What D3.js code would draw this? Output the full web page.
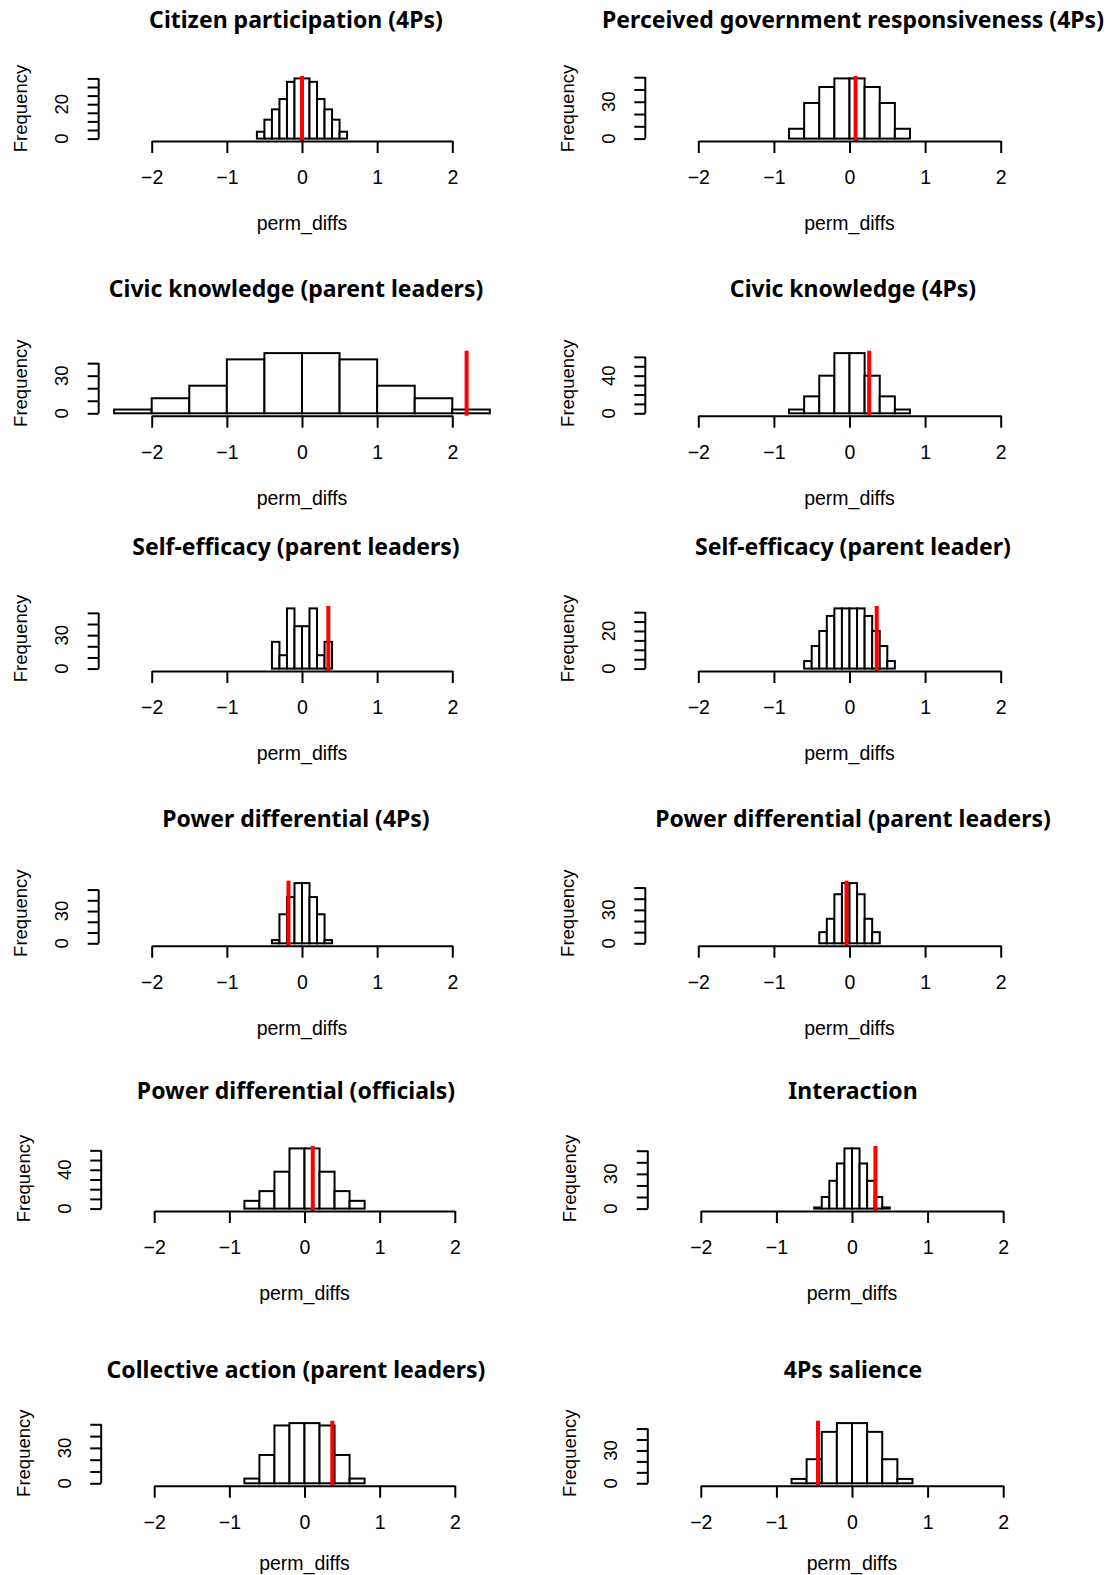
<!DOCTYPE html>
<html>
<head>
<meta charset="utf-8">
<script src="https://cdn.jsdelivr.net/npm/d3@7"></script>
<style>
  body { margin: 0; background: #fff; }
  svg text { fill: #000; }
</style>
</head>
<body>
<div id="chart"></div>
<script>
// panel titles, left to right, top to bottom
var titles = [
  "Citizen participation (4Ps)",
  "Perceived government responsiveness (4Ps)",
  "Civic knowledge (parent leaders)",
  "Civic knowledge (4Ps)",
  "Self-efficacy (parent leaders)",
  "Self-efficacy (parent leader)",
  "Power differential (4Ps)",
  "Power differential (parent leaders)",
  "Power differential (officials)",
  "Interaction",
  "Collective action (parent leaders)",
  "4Ps salience"
];

// histogram bins: first break and bin width
var binStarts = [-0.6, -0.8, -2.5, -0.8, -0.4, -0.6, -0.4, -0.4, -0.8, -0.5, -0.8, -0.8];
var binWidths = [0.1, 0.2, 0.5, 0.2, 0.1, 0.1, 0.1, 0.1, 0.2, 0.1, 0.2, 0.2];

// counts per bin
var citizenPart4Ps   = [4, 11, 17, 23, 33, 35, 35, 33, 23, 17, 11, 4];
var govResp4Ps       = [8, 29, 42, 49, 49, 42, 29, 8];
var civicKnowLeaders = [3, 12, 22, 43, 48, 48, 43, 22, 12, 3];
var civicKnow4Ps     = [4, 18, 40, 64, 64, 40, 18, 4];
var selfEffLeaders   = [24, 12, 54, 38, 38, 54, 12, 24];
var selfEffLeader    = [4, 12, 20, 28, 32, 32, 32, 32, 28, 20, 12, 4];
var powerDiff4Ps     = [3, 27, 43, 56, 56, 43, 27, 3];
var powerDiffLeaders = [10, 22, 44, 54, 54, 44, 22, 10];
var powerDiffOff     = [8, 18, 38, 62, 62, 38, 18, 8];
var interaction      = [1, 10, 24, 39, 52, 52, 39, 24, 10, 1];
var collectiveAction = [4, 24, 49, 51, 51, 49, 24, 4];
var salience4Ps      = [4, 22, 47, 55, 55, 47, 22, 4];

var counts = [citizenPart4Ps, govResp4Ps, civicKnowLeaders, civicKnow4Ps,
  selfEffLeaders, selfEffLeader, powerDiff4Ps, powerDiffLeaders,
  powerDiffOff, interaction, collectiveAction, salience4Ps];

// observed difference (red line)
var observed = [0, 0.08, 2.19, 0.26, 0.35, 0.36, -0.18, -0.04, 0.11, 0.31, 0.37, -0.45];

var xTicks = [-2, -1, 0, 1, 2];

// layout
var W = 1110, H = 1575;
var cols = [{x0: 151.7, x1: 452.3, titleX: 296}, {x0: 698.3, x1: 1000.7, titleX: 853}];
var rowAxisY = [141, 415.7, 671, 945.7, 1211, 1485.7];
var rowTitleY = [20, 289, 547, 819, 1091, 1370];
var rowShift = [0, 0, 0, 0, 2.5, 2.5];
var plotH = 65;
var axisFont = "'Liberation Sans', Arial, sans-serif";
var titleFont = "'Noto Sans', 'Open Sans', sans-serif";

var svg = d3.select("#chart").append("svg")
  .attr("width", W)
  .attr("height", H);

titles.forEach(function(title, i) {
  var col = cols[i % 2];
  var row = Math.floor(i / 2);
  var axisY = rowAxisY[row];
  var shift = rowShift[row];
  var data = counts[i];
  var maxCount = d3.max(data);

  var x = d3.scaleLinear().domain([-2, 2]).range([col.x0 + shift, col.x1 + shift]);
  var y = d3.scaleLinear()
    .domain([-0.04 * maxCount, 1.04 * maxCount])
    .range([axisY, axisY - plotH]);

  var g = svg.append("g");

  // title
  g.append("text")
    .attr("x", col.titleX)
    .attr("y", rowTitleY[row])
    .attr("dy", "0.35em")
    .attr("text-anchor", "middle")
    .style("font-family", titleFont)
    .style("font-weight", "bold")
    .style("font-size", "23px")
    .text(title);

  // bars
  var bins = data.map(function(c, j) {
    var lo = binStarts[i] + j * binWidths[i];
    return {x0: lo, x1: lo + binWidths[i], n: c};
  });
  g.selectAll("rect.bar").data(bins).enter().append("rect")
    .attr("class", "bar")
    .attr("x", function(d) { return x(d.x0); })
    .attr("width", function(d) { return x(d.x1) - x(d.x0); })
    .attr("y", function(d) { return y(d.n); })
    .attr("height", function(d) { return y(0) - y(d.n); })
    .attr("fill", "#fff")
    .attr("stroke", "#000")
    .attr("stroke-width", 2);

  // red observed line
  g.append("line")
    .attr("x1", x(observed[i])).attr("x2", x(observed[i]))
    .attr("y1", axisY - plotH).attr("y2", axisY)
    .attr("stroke", "#ff0000")
    .attr("stroke-width", 4);

  // x axis
  var xAxis = g.append("g")
    .attr("transform", "translate(0," + axisY + ")")
    .call(d3.axisBottom(x).tickValues(xTicks).tickSize(12).tickSizeOuter(0)
      .tickFormat(d3.format("d")));
  xAxis.select(".domain").attr("stroke-width", 2);
  xAxis.selectAll(".tick line").attr("stroke-width", 2);
  xAxis.selectAll(".tick text")
    .attr("y", 36).attr("dy", "0.35em")
    .style("font-family", axisFont)
    .style("font-size", "19.5px");

  g.append("text")
    .attr("x", (x(-2) + x(2)) / 2)
    .attr("y", Math.min(axisY + 82, H - 12))
    .attr("dy", "0.35em")
    .attr("text-anchor", "middle")
    .style("font-family", axisFont)
    .style("font-size", "19.5px")
    .text("perm_diffs");

  // y axis, R-style pretty ticks inside the plot range
  var step = d3.tickIncrement(0, maxCount, 5);
  var yTicks = d3.range(0, 1.04 * maxCount + 1e-9, step);
  var yAxisX = x(-2) - 53;
  var yAxis = g.append("g")
    .attr("transform", "translate(" + yAxisX + ",0)")
    .call(d3.axisLeft(y).tickValues(yTicks).tickSize(11).tickFormat(""));
  yAxis.select(".domain").remove();
  yAxis.selectAll(".tick line").attr("stroke-width", 2);
  yAxis.append("line")
    .attr("y1", y(0)).attr("y2", y(yTicks[yTicks.length - 1]))
    .attr("stroke", "#000").attr("stroke-width", 2);

  // labels that don't overlap the previous drawn one
  var lastY = null;
  yTicks.forEach(function(t) {
    var py = y(t);
    if (lastY !== null && lastY - py < 30) return;
    lastY = py;
    g.append("text")
      .attr("transform", "translate(" + (yAxisX - 37) + "," + py + ") rotate(-90)")
      .attr("dy", "0.35em")
      .attr("text-anchor", "middle")
      .style("font-family", axisFont)
      .style("font-size", "18.5px")
      .text(t);
  });

  g.append("text")
    .attr("transform", "translate(" + (yAxisX - 78) + "," + (axisY - plotH / 2) + ") rotate(-90)")
    .attr("dy", "0.35em")
    .attr("text-anchor", "middle")
    .style("font-family", axisFont)
    .style("font-size", "18.5px")
    .text("Frequency");
});
</script>
</body>
</html>
